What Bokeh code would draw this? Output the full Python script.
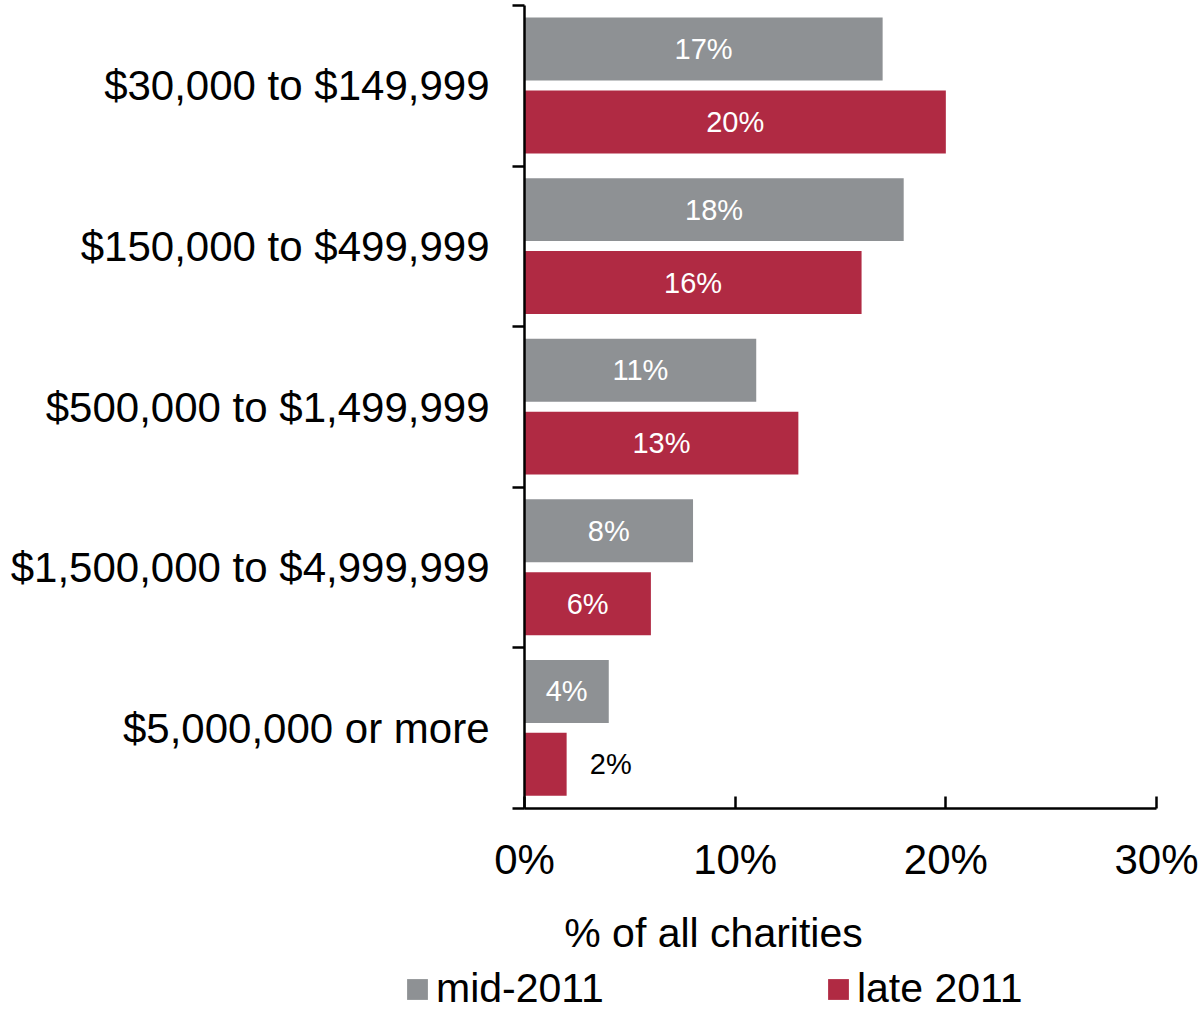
from bokeh.plotting import figure
from bokeh.layouts import column
from bokeh.models import (ColumnDataSource, Range1d, FixedTicker, Label, Legend, LegendItem)
from bokeh.embed import file_html
from bokeh.resources import INLINE
from bokeh.core.properties import value

categories = ["$30,000 to $149,999", "$150,000 to $499,999", "$500,000 to $1,499,999",
              "$1,500,000 to $4,999,999", "$5,000,000 or more"]
mid_2011 = [17, 18, 11, 8, 4]
late_2011 = [20, 16, 13, 6, 2]
series_names = ["mid-2011", "late 2011"]
x_ticks = [0, 10, 20, 30]
x_tick_labels = ["0%", "10%", "20%", "30%"]
x_title = "% of all charities"

GRAY = "#8e9194"
RED = "#b02a43"
FONT = "Liberation Sans"

n = len(categories)
centers = [n - i - 0.5 for i in range(n)]

def label_pos(vals):
    xs, al, col = [], [], []
    for v in vals:
        if v >= 3:
            xs.append(v / 2); al.append("center"); col.append("white")
        else:
            xs.append(v + 1.1); al.append("left"); col.append("black")
    return xs, al, col

mx, ma, mc = label_pos(mid_2011)
lx, la, lc = label_pos(late_2011)

src_mid = ColumnDataSource(dict(y=[c + 0.229 for c in centers], v=mid_2011,
                                lx=mx, la=ma, lc=mc, t=[f"{v}%" for v in mid_2011]))
src_late = ColumnDataSource(dict(y=[c - 0.225 for c in centers], v=late_2011,
                                 lx=lx, la=la, lc=lc, t=[f"{v}%" for v in late_2011]))

p = figure(width=1200, height=895, output_backend="svg", toolbar_location=None,
           x_range=Range1d(0, 30), y_range=Range1d(0, n),
           min_border_left=524, min_border_right=44, min_border_top=5, min_border_bottom=87)
p.outline_line_color = None
p.xgrid.visible = False
p.ygrid.visible = False

r_mid = p.hbar(y="y", right="v", left=0, height=0.392, source=src_mid,
               fill_color=GRAY, line_color=None)
r_late = p.hbar(y="y", right="v", left=0, height=0.392, source=src_late,
                fill_color=RED, line_color=None)

for src in (src_mid, src_late):
    p.text(x="lx", y="y", text="t", source=src, text_align="la", text_baseline="middle",
           text_color="lc", text_font=value(FONT), text_font_size="29px")

# x axis
xa = p.xaxis[0]
xa.ticker = FixedTicker(ticks=x_ticks)
xa.major_label_overrides = {t: l for t, l in zip(x_ticks, x_tick_labels)}
xa.major_tick_in = 12
xa.major_tick_out = 0
xa.minor_tick_line_color = None
xa.axis_line_width = 2.5
xa.major_tick_line_width = 2.5
xa.axis_line_color = "black"
xa.major_tick_line_color = "black"
xa.major_label_text_font = FONT
xa.major_label_text_font_size = "42px"
xa.major_label_text_color = "black"
xa.major_label_standoff = 27

# y axis
ya = p.yaxis[0]
ya.ticker = FixedTicker(ticks=centers, minor_ticks=list(range(n + 1)))
ya.major_label_overrides = {c: cat for c, cat in zip(centers, categories)}
ya.major_tick_in = 0
ya.major_tick_out = 0
ya.major_tick_line_color = None
ya.minor_tick_in = 0
ya.minor_tick_out = 12
ya.minor_tick_line_width = 2.5
ya.minor_tick_line_color = "black"
ya.axis_line_width = 2.5
ya.axis_line_color = "black"
ya.major_label_text_font = FONT
ya.major_label_text_font_size = "42px"
ya.major_label_text_color = "black"
ya.major_label_standoff = 23

# bottom strip: axis title + legend
q = figure(width=1200, height=117, output_backend="svg", toolbar_location=None,
           x_range=Range1d(0, 1200), y_range=Range1d(0, 117),
           x_axis_type=None, y_axis_type=None,
           min_border_left=0, min_border_right=0, min_border_top=0, min_border_bottom=0)
q.frame_align = False
q.outline_line_color = None
q.xgrid.visible = False
q.ygrid.visible = False

q.add_layout(Label(x=713, y=80, text=x_title, text_align="center", text_baseline="middle",
                   text_font=FONT, text_font_size="41px", text_color="black"))

# legend key proxies (zero-size, outside the visible range)
d_mid = q.hbar(y=[-1000], right=[0], left=0, height=1, fill_color=GRAY, line_color=None)
d_late = q.hbar(y=[-1000], right=[0], left=0, height=1, fill_color=RED, line_color=None)

legend = Legend(items=[LegendItem(label=series_names[0], renderers=[d_mid]),
                       LegendItem(label=series_names[1], renderers=[d_late])],
                orientation="horizontal", location=(404, 0),
                glyph_width=26, glyph_height=26, label_standoff=6, spacing=221,
                padding=0, margin=0, border_line_color=None, background_fill_alpha=0,
                label_text_font=FONT, label_text_font_size="41px", label_text_color="black")
q.add_layout(legend, "center")

layout = column(p, q, spacing=0)
open("out.html", "w").write(file_html(layout, INLINE))
